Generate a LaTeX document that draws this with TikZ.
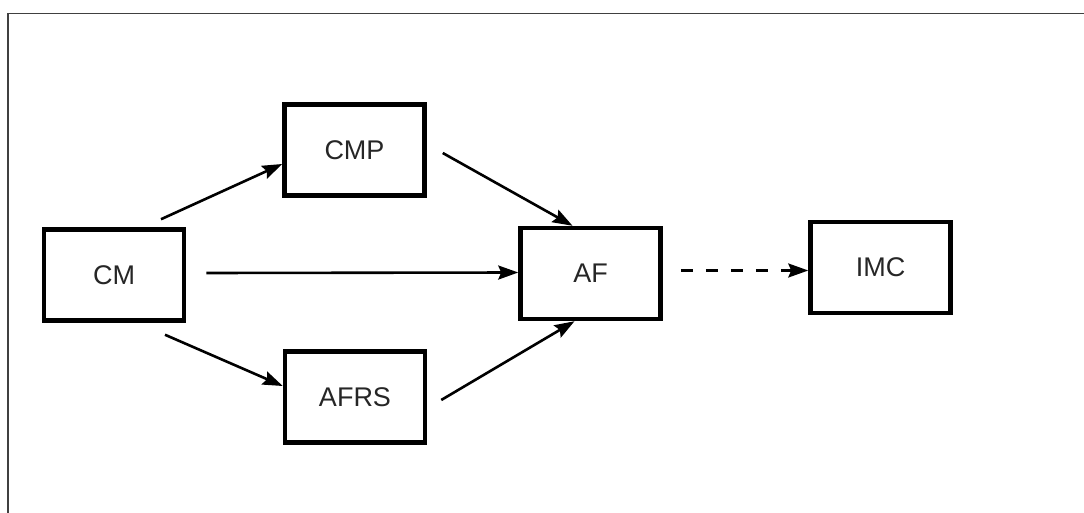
\documentclass[tikz,border=0pt]{standalone}
\usepackage{fontspec}
\setmainfont{Liberation Sans}
\usetikzlibrary{arrows.meta,calc}
\begin{document}
\begin{tikzpicture}[x=1pt,y=-1pt,
  box/.style={draw=black,line width=4.5pt,minimum width=140pt,minimum height=91pt,inner sep=0pt,font=\fontsize{27}{31}\selectfont,text=black!85},
  arr/.style={line width=2.6pt,-{Stealth[length=20pt,width=14pt,inset=3pt]}},
  dasharr/.style={arr,dash pattern=on 12pt off 13pt},
  frame/.style={draw=black!75,line width=1.5pt}]
\useasboundingbox (0,0) rectangle (1084,513);
\coordinate (ftl) at (8,13.5);
\coordinate (ftr) at (1084,13.5);
\coordinate (fbl) at (8,513);
\draw[frame] (ftr) -- (ftl) -- (fbl);
\node[box] (CM)   at (114,275)   {CM};
\node[box] (CMP)  at (354.5,150) {CMP};
\node[box] (AF)   at (590.5,273.5) {AF};
\node[box] (IMC)  at (880.5,267.5) {IMC};
\node[box] (AFRS) at (355,397)   {AFRS};
\draw[arr] ([xshift=47pt,yshift=8pt]CM.north) -- ([yshift=-14pt]CMP.west);
\draw[arr] ([xshift=20pt,yshift=2pt]CM.east) -- ([yshift=1pt]AF.west);
\draw[arr] ([xshift=16pt,yshift=-3pt]CMP.east) -- ([xshift=-18pt]AF.north);
\draw[arr] ([xshift=51pt,yshift=-12pt]CM.south) -- ([yshift=11pt]AFRS.west);
\draw[arr] ([xshift=14pt,yshift=-3pt]AFRS.east) -- ([xshift=-16pt]AF.south);
\draw[dasharr] ([xshift=18pt,yshift=3pt]AF.east) -- ([yshift=-3pt]IMC.west);
\end{tikzpicture}
\end{document}
